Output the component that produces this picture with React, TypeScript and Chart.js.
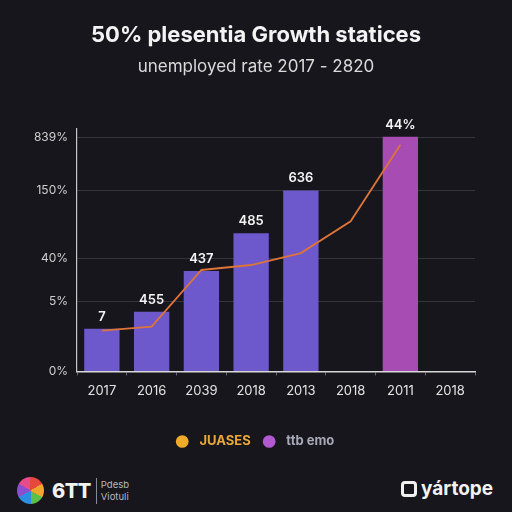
import React, { useEffect, useRef } from "react";
import { Chart, registerables } from "chart.js";

Chart.register(...registerables);

// ---- data (values are in the chart's axis units) ----
const categories = ["2017", "2016", "2039", "2018", "2013", "2018", "2011", "2018"];
const barValues = [43, 60, 101, 139, 182, null, 236, null];
const barLabels = ["7", "455", "437", "485", "636", "", "44%", ""];
const lineValues = [41, 45, 102, 107, 119, 151, 228, null];
const yTickValues = [0, 70, 114, 182, 235];
const yTickLabels = ["0%", "5%", "40%", "150%", "839%"];
const seriesNames = ["JUASES", "ttb emo"];
const titleText = "50% plesentia Growth statices";
const subtitleText = "unemployed rate 2017 - 2820";

const BG = "#16161c";
const BAR_COLOR = "#6d59cb";
const BAR_HIGHLIGHT = "#a64cb3";
const LINE_COLOR = "#dd743a";

const barLabelPlugin = {
  id: "barLabels",
  afterDatasetsDraw(chart: any) {
    const meta = chart.getDatasetMeta(1);
    const ctx = chart.ctx;
    ctx.save();
    ctx.fillStyle = "#f4f4f4";
    ctx.font = "600 13px Inter, 'DejaVu Sans', sans-serif";
    ctx.textAlign = "center";
    ctx.textBaseline = "middle";
    meta.data.forEach((el: any, i: number) => {
      const v = barValues[i];
      if (v == null || !barLabels[i]) return;
      ctx.fillText(barLabels[i], el.x, el.y - 12);
    });
    ctx.restore();
  },
};

export default function App() {
  const canvasRef = useRef<HTMLCanvasElement | null>(null);

  useEffect(() => {
    const canvas = canvasRef.current;
    if (!canvas) return;
    const chart = new Chart(canvas, {
      type: "bar",
      data: {
        labels: categories,
        datasets: [
          {
            type: "line",
            label: seriesNames[0],
            data: lineValues as any,
            borderColor: LINE_COLOR,
            borderWidth: 1.8,
            pointRadius: 0,
            tension: 0,
            order: 0,
          } as any,
          {
            type: "bar",
            label: seriesNames[1],
            data: barValues as any,
            backgroundColor: categories.map((_, i) => (i === 6 ? BAR_HIGHLIGHT : BAR_COLOR)),
            barPercentage: 0.71,
            categoryPercentage: 1,
            order: 1,
          },
        ],
      },
      options: {
        animation: false,
        responsive: false,
        maintainAspectRatio: false,
        layout: { padding: { left: 0, right: 0, top: 0, bottom: 4 } },
        plugins: {
          title: {
            display: true,
            text: titleText,
            color: "#f3f3f3",
            font: { family: "Inter", size: 22, weight: "bold" },
            padding: { top: 22, bottom: 4 },
          },
          subtitle: {
            display: true,
            text: subtitleText,
            color: "#dadada",
            font: { family: "Inter", size: 17, weight: "normal" },
            padding: { top: 4, bottom: 52 },
          },
          legend: {
            display: true,
            position: "bottom",
            labels: {
              usePointStyle: true,
              boxWidth: 9,
              boxHeight: 9,
              padding: 14,
              font: { family: "Inter", size: 13, weight: "bold" },
              generateLabels: () => [
                {
                  text: "  " + seriesNames[0],
                  fillStyle: "#f2aa2a",
                  strokeStyle: "#f2aa2a",
                  fontColor: "#e8a73a",
                  pointStyle: "circle",
                  lineWidth: 0,
                  hidden: false,
                  datasetIndex: 0,
                } as any,
                {
                  text: "  " + seriesNames[1],
                  fillStyle: "#b15ad0",
                  strokeStyle: "#b15ad0",
                  fontColor: "#a8a8b8",
                  pointStyle: "circle",
                  lineWidth: 0,
                  hidden: false,
                  datasetIndex: 1,
                } as any,
              ],
            },
          },
          tooltip: { enabled: false },
        },
        scales: {
          x: {
            grid: {
              offset: true,
              drawOnChartArea: false,
              drawTicks: true,
              tickLength: 4,
              color: "#6a6a72",
            },
            border: { color: "#d8d8d8", width: 1.5 },
            ticks: {
              color: "#e4e4e4",
              font: { family: "Inter", size: 13 },
              padding: 8,
            },
            afterFit: (scale: any) => {
              scale.height += 14;
            },
          },
          y: {
            min: 0,
            max: 244,
            afterBuildTicks: (scale: any) => {
              scale.ticks = yTickValues.map((v) => ({ value: v }));
            },
            afterFit: (scale: any) => {
              scale.width = 77;
            },
            grid: { color: "#34343c", drawTicks: false, lineWidth: 1 },
            border: { color: "#c8c8c8", width: 1.2 },
            ticks: {
              color: "#cfcfcf",
              font: { family: "Inter", size: 12 },
              padding: 9,
              callback: (_v: any, i: number) => yTickLabels[i],
            },
          },
          yRight: {
            position: "right",
            min: 0,
            max: 244,
            grid: { drawOnChartArea: false, drawTicks: false },
            border: { display: false },
            ticks: { display: false },
            afterFit: (scale: any) => {
              scale.width = 37;
            },
          },
        },
      },
      plugins: [barLabelPlugin],
    });
    return () => chart.destroy();
  }, []);

  return (
    <div
      style={{
        position: "fixed",
        left: 0,
        top: 0,
        width: 512,
        height: 512,
        background: BG,
        overflow: "hidden",
        fontFamily: "Inter, 'DejaVu Sans', sans-serif",
      }}
    >
      <canvas ref={canvasRef} width={512} height={462} style={{ display: "block" }} />
      <div style={{ position: "absolute", left: 17, top: 477, display: "flex", alignItems: "center" }}>
        <div
          style={{
            width: 27,
            height: 27,
            borderRadius: "50%",
            background:
              "conic-gradient(#e8483b 0deg 60deg, #f2a52b 60deg 120deg, #5cbf4a 120deg 180deg, #2d8fe0 180deg 240deg, #8a4fd0 240deg 300deg, #e64b8e 300deg 360deg)",
          }}
        />
        <div style={{ color: "#f2f2f2", fontWeight: 800, fontSize: 20, marginLeft: 8, letterSpacing: -0.5 }}>6TT</div>
        <div style={{ width: 1, height: 26, background: "#8a8a92", marginLeft: 5 }} />
        <div style={{ color: "#b8b8c0", fontSize: 9.5, lineHeight: "12px", marginLeft: 4 }}>
          <div>Pdesb</div>
          <div>Viotuli</div>
        </div>
      </div>
      <div style={{ position: "absolute", left: 401, top: 477, display: "flex", alignItems: "center" }}>
        <div
          style={{
            width: 16,
            height: 16,
            borderRadius: 4,
            border: "3px solid #f0f0f0",
            boxSizing: "border-box",
          }}
        />
        <div style={{ color: "#f2f2f2", fontWeight: 700, fontSize: 19, marginLeft: 4 }}>yártope</div>
      </div>
    </div>
  );
}
